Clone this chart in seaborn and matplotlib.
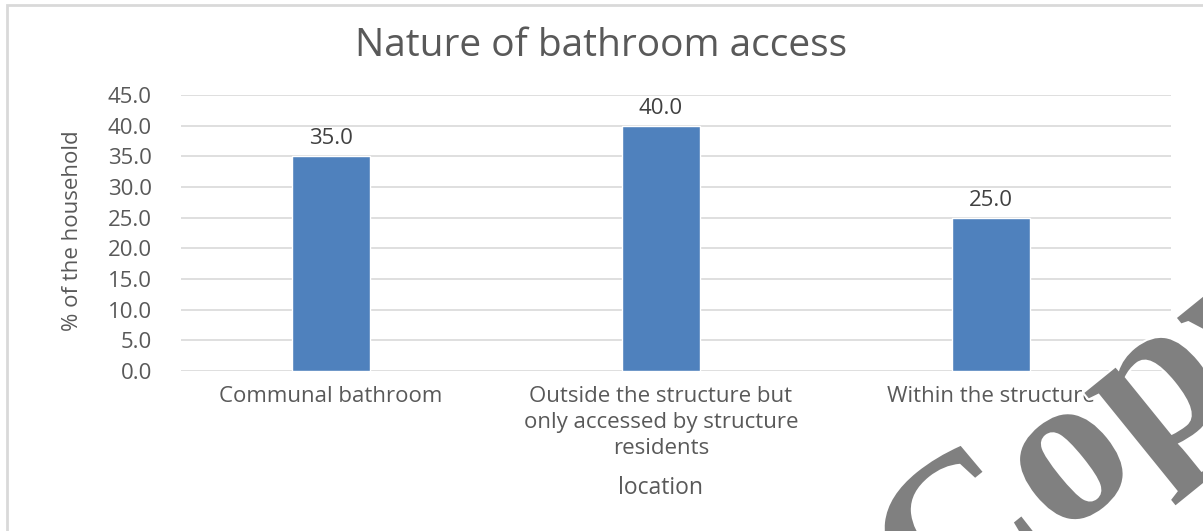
import matplotlib
matplotlib.use('Agg')
import matplotlib.pyplot as plt
import matplotlib.patheffects as pe
import seaborn as sns
import pandas as pd

# chart data
locations = ['Communal bathroom',
             'Outside the structure but\nonly accessed by structure\nresidents',
             'Within the structure']
percent = [35.0, 40.0, 25.0]
y_ticks = [0, 5, 10, 15, 20, 25, 30, 35, 40, 45]

df = pd.DataFrame({'location': locations, 'percent': percent})

sns.set_style('white')
plt.rcParams['font.family'] = ['Open Sans', 'DejaVu Sans']

W, H = 1203, 531
fig = plt.figure(figsize=(W / 100, H / 100), dpi=100)
ax = fig.add_axes([181 / W, (H - 371) / H, 990 / W, 276 / H])

sns.barplot(data=df, x='location', y='percent', color='#4F81BD',
            width=0.235, saturation=1, ax=ax, zorder=3)

ax.set_xlim(-150 / 330, 2 + 180 / 330)
ax.set_ylim(0, 45)
ax.set_yticks(y_ticks)
ax.set_yticklabels([f'{t:.1f}' for t in y_ticks])
ax.grid(axis='y', color='#d9d9d9', linewidth=1.2, zorder=0)
for s in ax.spines.values():
    s.set_visible(False)
ax.tick_params(axis='y', length=0, pad=21, labelsize=16, labelcolor='#595959')
ax.tick_params(axis='x', length=0, pad=11, labelsize=16, labelcolor='#595959')
for lbl in ax.get_xticklabels():
    lbl.set_linespacing(1.3)
ax.set_xlabel('')
ax.set_ylabel('')

for i, v in enumerate(percent):
    ax.annotate(f'{v:.1f}', (i, v), xytext=(0, 5), textcoords='offset points',
                ha='center', va='bottom', fontsize=16, color='#404040')

fig.text(601 / W, 1 - 46 / H, 'Nature of bathroom access', ha='center',
         va='center', fontsize=28, color='#595959')
fig.text(72 / W, 1 - 231 / H, '% of the household', rotation=90, ha='center',
         va='center', fontsize=16, color='#595959')
fig.text(661 / W, 1 - 488 / H, 'location', ha='center', va='center',
         fontsize=16.5, color='#595959')

# outer chart border
fig.patches.append(plt.Rectangle((7 / W, -0.05), 1.1, 1 - 5 / H + 0.05,
                                 transform=fig.transFigure, fill=False,
                                 edgecolor='#d9d9d9', linewidth=2))

# watermark
fig.text(940 / W, 1 - 637 / H, 'Copy', rotation=39, ha='left', va='baseline',
         rotation_mode='anchor', fontsize=155, fontweight='bold',
         family='Liberation Serif', color='#808080',
         path_effects=[pe.withStroke(linewidth=3, foreground='white')])

fig.savefig('out.png', dpi=100)
